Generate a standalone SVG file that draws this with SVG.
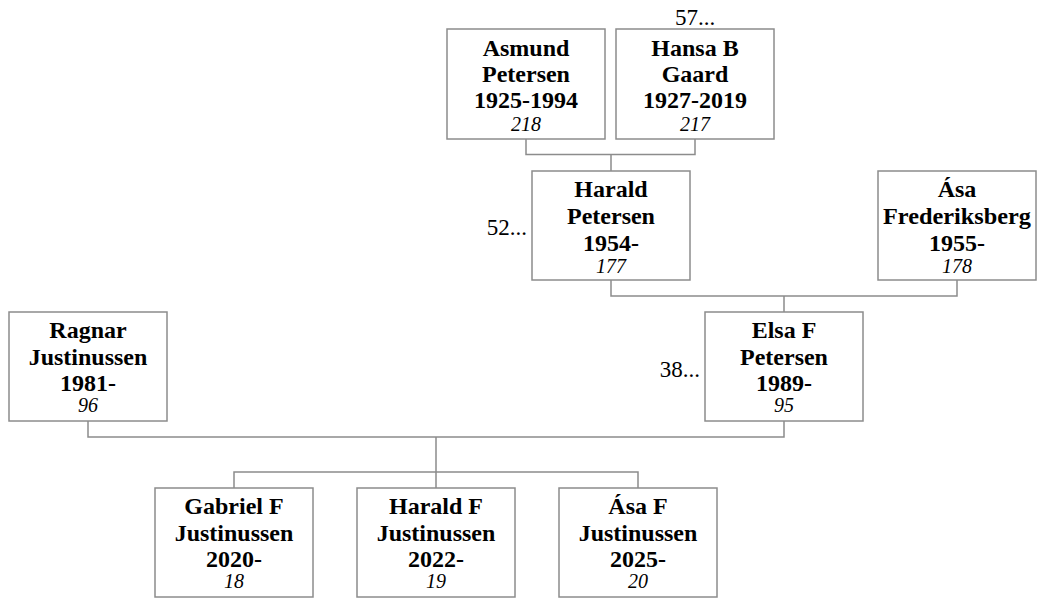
<svg xmlns="http://www.w3.org/2000/svg" width="1041" height="599" viewBox="0 0 1041 599">
<style>
.box{fill:#fff;stroke:#8c8c8c;stroke-width:1.5}
.conn{fill:none;stroke:#8c8c8c;stroke-width:1.5}
.n{font-family:"Liberation Serif","Times New Roman",serif;font-weight:bold;font-size:24px;fill:#000;text-anchor:middle}
.id{font-family:"Liberation Serif","Times New Roman",serif;font-style:italic;font-size:20px;fill:#000;text-anchor:middle}
.more{font-family:"Liberation Serif","Times New Roman",serif;font-size:23px;fill:#000}
</style>
<rect width="1041" height="599" fill="#fff"/>
<g id="connectors">
<path class="conn" d="M526 139V154.5H695V139M611 154.5V171"/>
<path class="conn" d="M611 280V296H957V280M784 296V312"/>
<path class="conn" d="M88 421V437H784V421M436 437V488M234 488V472H638V488"/>
</g>
<g id="asmund">
<rect class="box" x="447" y="29" width="158" height="110"/>
<text class="n" x="526" y="55.5">Asmund</text>
<text class="n" x="526" y="82">Petersen</text>
<text class="n" x="526" y="108">1925-1994</text>
<text class="id" x="526" y="131">218</text>
</g>
<g id="hansa">
<rect class="box" x="616" y="29" width="158" height="110"/>
<text class="more" x="695" y="25" text-anchor="middle">57...</text>
<text class="n" x="695" y="55.5">Hansa B</text>
<text class="n" x="695" y="82">Gaard</text>
<text class="n" x="695" y="108">1927-2019</text>
<text class="id" x="695" y="131">217</text>
</g>
<g id="harald">
<rect class="box" x="532" y="171" width="158" height="109"/>
<text class="more" x="527" y="235" text-anchor="end">52...</text>
<text class="n" x="611" y="196.5">Harald</text>
<text class="n" x="611" y="223.5">Petersen</text>
<text class="n" x="611" y="250.5">1954-</text>
<text class="id" x="611" y="272.5">177</text>
</g>
<g id="asa-frederiksberg">
<rect class="box" x="878" y="171" width="158" height="109"/>
<text class="n" x="957" y="196.5">Ása</text>
<text class="n" x="957" y="223.5" textLength="148" lengthAdjust="spacingAndGlyphs">Frederiksberg</text>
<text class="n" x="957" y="250.5">1955-</text>
<text class="id" x="957" y="272.5">178</text>
</g>
<g id="ragnar">
<rect class="box" x="9" y="312" width="158" height="109"/>
<text class="n" x="88" y="338">Ragnar</text>
<text class="n" x="88" y="364.5">Justinussen</text>
<text class="n" x="88" y="391">1981-</text>
<text class="id" x="88" y="412">96</text>
</g>
<g id="elsa">
<rect class="box" x="705" y="312" width="158" height="109"/>
<text class="more" x="700" y="377" text-anchor="end">38...</text>
<text class="n" x="784" y="338">Elsa F</text>
<text class="n" x="784" y="364.5">Petersen</text>
<text class="n" x="784" y="391">1989-</text>
<text class="id" x="784" y="412">95</text>
</g>
<g id="gabriel">
<rect class="box" x="155" y="488" width="158" height="109"/>
<text class="n" x="234" y="514">Gabriel F</text>
<text class="n" x="234" y="540.5">Justinussen</text>
<text class="n" x="234" y="567">2020-</text>
<text class="id" x="234" y="588">18</text>
</g>
<g id="harald-f">
<rect class="box" x="357" y="488" width="158" height="109"/>
<text class="n" x="436" y="514">Harald F</text>
<text class="n" x="436" y="540.5">Justinussen</text>
<text class="n" x="436" y="567">2022-</text>
<text class="id" x="436" y="588">19</text>
</g>
<g id="asa-f">
<rect class="box" x="559" y="488" width="158" height="109"/>
<text class="n" x="638" y="514">Ása F</text>
<text class="n" x="638" y="540.5">Justinussen</text>
<text class="n" x="638" y="567">2025-</text>
<text class="id" x="638" y="588">20</text>
</g>
</svg>
